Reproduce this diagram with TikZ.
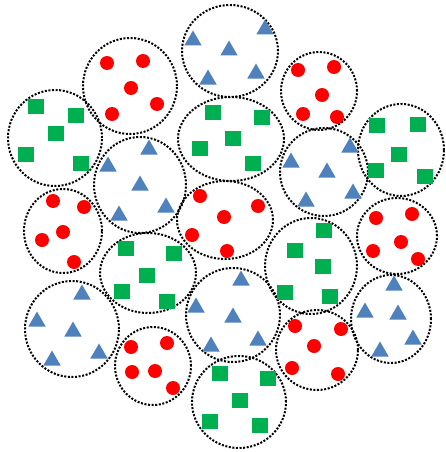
\documentclass[tikz,border=0pt]{standalone}
\usetikzlibrary{shapes.geometric}
\definecolor{rdot}{HTML}{FF0000}
\definecolor{gsq}{HTML}{00B050}
\definecolor{btri}{HTML}{4F81BD}
\begin{document}
\begin{tikzpicture}[x=1pt,y=-1pt,
  grp/.style={ellipse, draw=black, line width=2pt, dash pattern=on 2pt off 1.6pt, inner sep=0pt, outer sep=0pt},
  reddot/.style={circle, fill=rdot, minimum size=14pt, inner sep=0pt},
  greensq/.style={rectangle, fill=gsq, minimum width=16pt, minimum height=15pt, inner sep=0pt},
  bluetri/.style={regular polygon, regular polygon sides=3, fill=btri, minimum size=20pt, inner sep=0pt, yshift=-2.5pt}]
\useasboundingbox (0,0) rectangle (445,452);
\fill[white] (0,0) rectangle (445,452);
% group outlines
\foreach \n/\cx/\cy/\rx/\ry in {
  c1/230/51/48/46, c2/130/86/47/48, c3/55/138/47/48, c4/140/185/46/48,
  c5/231/139/53/42, c6/319/91/38/39, c7/401/150/43/46, c8/324/172/44/44,
  c9/225/220/48/39, c10/63/231/39/42, c11/148/273/48/40, c12/72/329/47/48,
  c13/153/366/38/39, c14/233/315/47/47, c15/239/402/47/46, c16/311/266/46/48,
  c17/397/236/40/38, c18/391/319/40/44, c19/317/350/41/40}
  \node[grp, minimum width=2*\rx pt, minimum height=2*\ry pt] (\n) at (\cx,\cy) {};
% red dots
\foreach \n/\x/\y in {
  r2a/107/63, r2b/143/61, r2c/131/88, r2d/157/104, r2e/112/114,
  r6a/298/70, r6b/334/67, r6c/322/95, r6d/303/114, r6e/337/117,
  r9a/200/196, r9b/224/217, r9c/258/206, r9d/192/235, r9e/227/251,
  r10a/53/201, r10b/84/207, r10c/63/232, r10d/42/240, r10e/74/262,
  r13a/131/347, r13b/167/343, r13c/132/372, r13d/155/371, r13e/173/388,
  r17a/376/218, r17b/412/214, r17c/401/242, r17d/373/251, r17e/418/259,
  r19a/295/326, r19b/341/329, r19c/314/346, r19d/292/368, r19e/338/374}
  \node[reddot] (\n) at (\x,\y) {};
% green squares
\foreach \n/\x/\y in {
  g3a/36/106, g3b/76/115, g3c/56/133, g3d/26/154, g3e/81/163,
  g5a/213/112, g5b/262/117, g5c/233/138, g5d/200/148, g5e/253/163,
  g7a/377/125, g7b/418/124, g7c/399/154, g7d/376/170, g7e/425/176,
  g11a/126/248, g11b/174/253, g11c/147/275, g11d/122/291, g11e/167/301,
  g15a/220/373, g15b/268/378, g15c/240/400, g15d/210/421, g15e/260/425,
  g16a/324/230, g16b/295/250, g16c/323/266, g16d/285/292, g16e/330/296}
  \node[greensq] (\n) at (\x,\y) {};
% blue triangles
\foreach \n/\x/\y in {
  t1a/193/38, t1b/229/48, t1c/265/27, t1d/208/77, t1e/256/71,
  t4a/149/147, t4b/108/164, t4c/140/183, t4d/166/205, t4e/119/213,
  t8a/350/145, t8b/291/160, t8c/327/170, t8d/306/199, t8e/353/191,
  t12a/82/292, t12b/37/319, t12c/73/329, t12d/99/351, t12e/52/358,
  t14a/241/278, t14b/196/305, t14c/233/315, t14d/211/344, t14e/258/338,
  t18a/394/283, t18b/365/310, t18c/398/312, t18d/413/337, t18e/380/349}
  \node[bluetri] (\n) at (\x,\y) {};
\end{tikzpicture}
\end{document}
